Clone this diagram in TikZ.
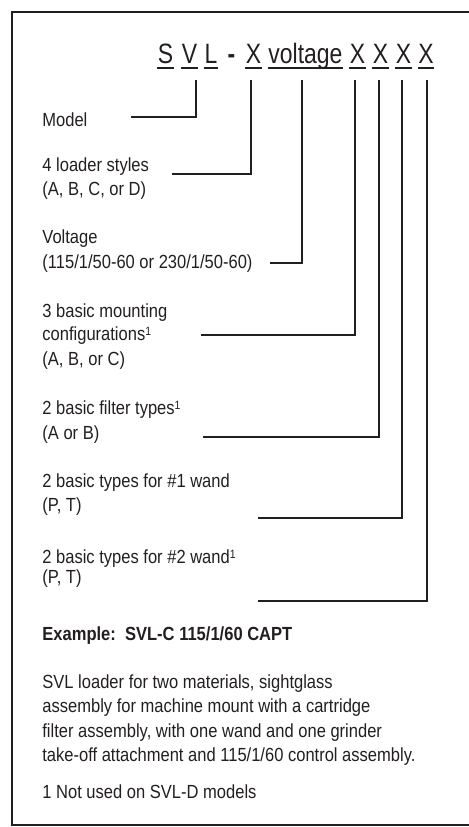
\documentclass[tikz,border=0pt]{standalone}
\usepackage{fontspec}
\setmainfont{Liberation Sans}[FakeStretch=0.87]
\newfontfamily\codefont{Liberation Sans}[FakeStretch=0.82]
\usepackage{xcolor}
\definecolor{ink}{HTML}{231F20}
\usetikzlibrary{calc}
\newcommand{\notemark}{\raisebox{2.3pt}{\fontsize{6}{6}\selectfont 1}}

\begin{document}
\begin{tikzpicture}[x=0.5pt,y=-0.5pt,
	txt/.style={anchor=base west,inner sep=0pt,font=\fontsize{9.5}{11}\selectfont,text=ink},
	code/.style={anchor=base,inner sep=0pt,font=\codefont\fontsize{14}{16}\selectfont,text=ink},
	wire/.style={draw=ink,line width=1pt},
	uline/.style={draw=ink,line width=0.7pt}]
	\useasboundingbox (0,0) rectangle (468,827);
	\draw[wire] (11.5,12) rectangle (490,825);
	% model code
	\node[code] (hS) at (165.5,63) {S};
	\node[code] (hV) at (189.5,63) {V};
	\node[code] (hL) at (211,63) {L};
	\node[code,font=\codefont\fontsize{14}{16}\selectfont\bfseries] (hdash) at (231.5,63) {-};
	\node[code] (hX) at (253.5,63) {X};
	\node[code] (hvolt) at (305.5,63) {voltage};
	\node[code] (hA) at (357.5,63) {X};
	\node[code] (hB) at (380.5,63) {X};
	\node[code] (hC) at (403.5,63) {X};
	\node[code] (hD) at (426,63) {X};
	\foreach \n in {hS,hV,hL,hX,hvolt,hA,hB,hC,hD}
		\draw[uline] (\n.west |- 0,68) -- (\n.east |- 0,68);
	% labels
	\node[txt] (model) at (42,126) {Model};
	\node[txt] (style) at (42,171) {4 loader styles};
	\node[txt] (styleopt) at (42,195) {(A, B, C, or D)};
	\node[txt] (volt) at (42,243) {Voltage};
	\node[txt] (voltopt) at (42,268) {(115/1/50-60 or 230/1/50-60)};
	\node[txt] (mount) at (42,317) {3 basic mounting};
	\node[txt] (mountb) at (42,340) {configurations\notemark};
	\node[txt] (mountopt) at (42,365) {(A, B, or C)};
	\node[txt] (filter) at (42,414) {2 basic filter types\notemark};
	\node[txt] (filteropt) at (42,439) {(A or B)};
	\node[txt] (wandA) at (42,487) {2 basic types for \#1 wand};
	\node[txt] (wandAopt) at (42,511) {(P, T)};
	\node[txt] (wandB) at (42,563) {2 basic types for \#2 wand\notemark};
	\node[txt] (wandBopt) at (42,583) {(P, T)};
	\node[txt,font=\fontsize{9.5}{11}\selectfont\bfseries] (example) at (42,640) {Example:\ \ SVL-C 115/1/60 CAPT};
	\node[txt] (descA) at (42,688) {SVL loader for two materials, sightglass};
	\node[txt] (descB) at (42,712.5) {assembly for machine mount with a cartridge};
	\node[txt] (descC) at (42,737) {filter assembly, with one wand and one grinder};
	\node[txt] (descD) at (42,761) {take-off attachment and 115/1/60 control assembly.};
	\node[txt] (note) at (42,798) {1 Not used on SVL-D models};
	% leaders
	\coordinate (tModel) at (196,80);   \coordinate (eModel) at (131,117);
	\coordinate (tStyle) at (251,80);   \coordinate (eStyle) at (172,174);
	\coordinate (tVolt) at (302,80);    \coordinate (eVolt) at (270,263);
	\coordinate (tMount) at (355,80);   \coordinate (eMount) at (201,335);
	\coordinate (tFilter) at (379,80);  \coordinate (eFilter) at (203,437);
	\coordinate (tWandA) at (402,80);   \coordinate (eWandA) at (258,518);
	\coordinate (tWandB) at (427,80);   \coordinate (eWandB) at (258,601);
	\foreach \k in {Model,Style,Volt,Mount,Filter,WandA,WandB}
		\draw[wire] (t\k) |- (e\k);
\end{tikzpicture}
\end{document}
